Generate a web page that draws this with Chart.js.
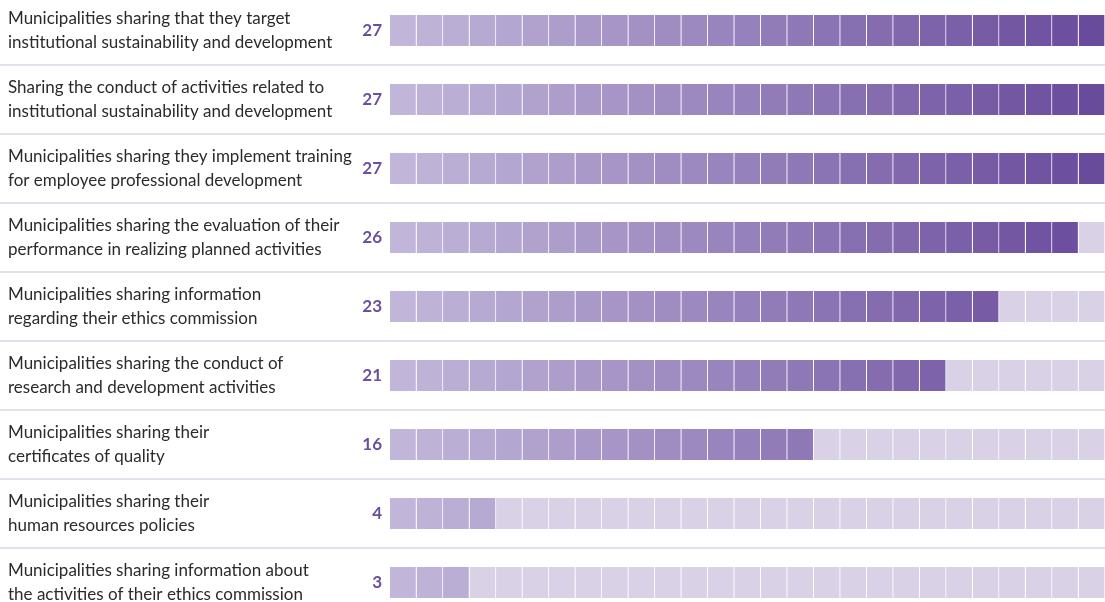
<!DOCTYPE html>
<html>
<head>
<meta charset="utf-8">
<script src="https://cdn.jsdelivr.net/npm/chart.js@4.4.1/dist/chart.umd.min.js"></script>
<style>
  html, body { margin: 0; padding: 0; background: #fff; overflow: hidden; }
  #wrap { position: absolute; left: 0; top: -4px; width: 1105px; height: 621px; }
</style>
</head>
<body>
<div id="wrap"><canvas id="chart"></canvas></div>
<script>
var categories = [
  ["Municipalities sharing that they target", "institutional sustainability and development"],
  ["Sharing the conduct of activities related to", "institutional sustainability and development"],
  ["Municipalities sharing they implement training", "for employee professional development"],
  ["Municipalities sharing the evaluation of their", "performance in realizing planned activities"],
  ["Municipalities sharing information", "regarding their ethics commission"],
  ["Municipalities sharing the conduct of", "research and development activities"],
  ["Municipalities sharing their", "certificates of quality"],
  ["Municipalities sharing their", "human resources policies"],
  ["Municipalities sharing information about", "the activities of their ethics commission"]
];
var values = [27, 27, 27, 26, 23, 21, 16, 4, 3];
var totalMunicipalities = 27;

var labelFont = "Lato";
var lightCell = [193, 182, 217];
var darkCell = [105, 75, 156];
var emptyCell = '#d9d2e7';

function cellColor(k) {
  var t = k / (totalMunicipalities - 1);
  var c = lightCell.map(function (a, j) { return Math.round(a + (darkCell[j] - a) * t); });
  return 'rgb(' + c.join(',') + ')';
}

// one dataset per cell position, stacked side by side
var datasets = [];
for (var k = 0; k < totalMunicipalities; k++) {
  datasets.push({
    data: values.map(function () { return 1; }),
    backgroundColor: values.map(function (v) { return k < v ? cellColor(k) : emptyCell; }),
    borderColor: '#ffffff',
    borderWidth: { left: 0, right: 1, top: 0, bottom: 0 },
    borderSkipped: false,
    barThickness: 31
  });
}

var rowLinesAndValues = {
  id: 'rowLinesAndValues',
  afterDatasetsDraw: function (chart) {
    var ctx = chart.ctx, y = chart.scales.y;
    ctx.save();
    ctx.strokeStyle = '#dad4e7';
    ctx.lineWidth = 1.5;
    for (var i = 0; i < categories.length - 1; i++) {
      var yy = (y.getPixelForValue(i) + y.getPixelForValue(i + 1)) / 2;
      ctx.beginPath();
      ctx.moveTo(0, yy);
      ctx.lineTo(chart.width, yy);
      ctx.stroke();
    }
    ctx.fillStyle = '#6b4f9f';
    ctx.font = 'bold 17px ' + labelFont;
    ctx.textAlign = 'right';
    ctx.textBaseline = 'alphabetic';
    values.forEach(function (v, i) {
      ctx.fillText(String(v), chart.chartArea.left - 8, y.getPixelForValue(i) + 5);
    });
    ctx.restore();
  }
};

new Chart(document.getElementById('chart'), {
  type: 'bar',
  data: { labels: categories, datasets: datasets },
  options: {
    indexAxis: 'y',
    responsive: true,
    maintainAspectRatio: false,
    animation: false,
    layout: { padding: { left: 8, right: 0, top: 0, bottom: 0 } },
    plugins: { legend: { display: false }, tooltip: { enabled: false } },
    scales: {
      x: { display: false, stacked: true, min: 0, max: totalMunicipalities },
      y: {
        stacked: true,
        grid: { display: false },
        border: { display: false },
        ticks: {
          crossAlign: 'far',
          padding: 0,
          color: '#2b2b2b',
          font: { family: labelFont, size: 17, lineHeight: 1.38 }
        },
        afterFit: function (scale) {
          scale.width = 382;
          scale.paddingTop = 0;
          scale.paddingBottom = 0;
        }
      }
    }
  },
  plugins: [rowLinesAndValues]
});
</script>
</body>
</html>
